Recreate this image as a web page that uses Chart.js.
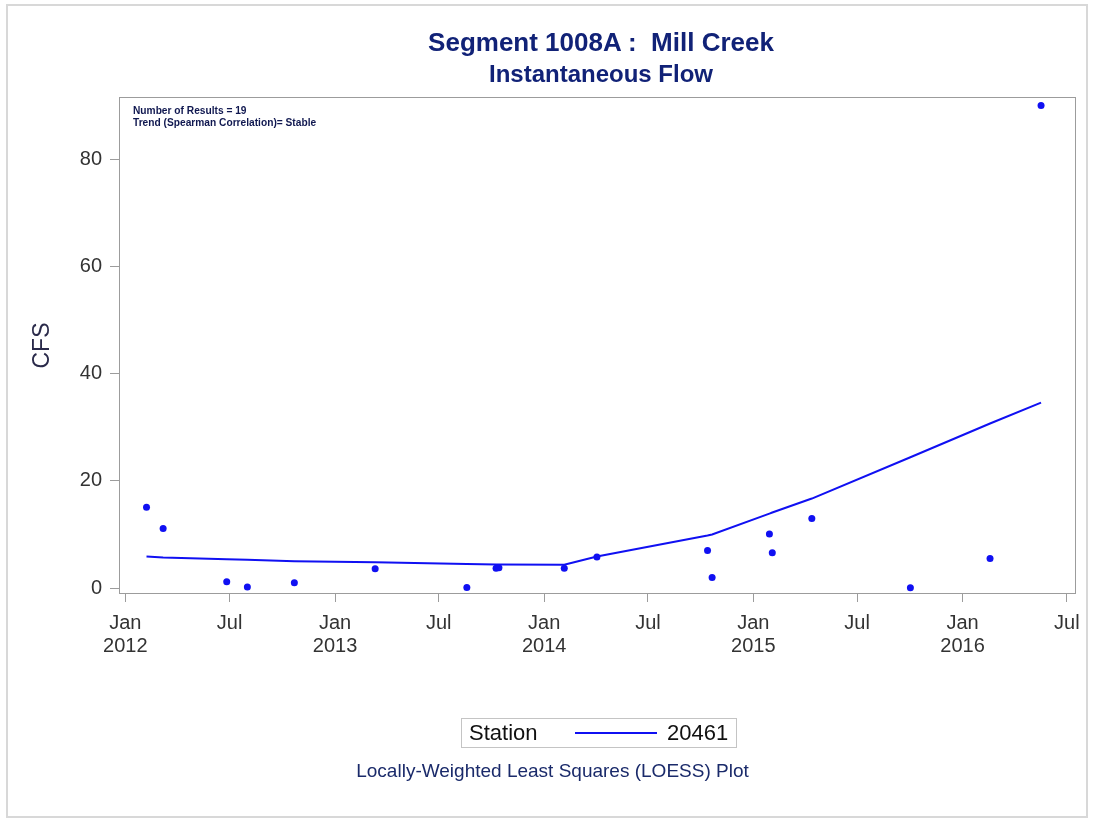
<!DOCTYPE html>
<html>
<head>
<meta charset="utf-8">
<title>Segment 1008A : Mill Creek</title>
<script src="https://cdn.jsdelivr.net/npm/chart.js@4.4.1/dist/chart.umd.min.js"></script>
<style>
  body { margin: 0; background: #fff; font-family: 'Liberation Sans', Arial, sans-serif; }
  .wrap { position: relative; width: 1095px; height: 822px; overflow: hidden; }
  .wrap canvas { position: absolute; left: 0; top: 0; }
  .frame { position: absolute; left: 6px; top: 4px; width: 1082px; height: 814px; border: 2px solid #d8d8d8; box-sizing: border-box; }
  .title, .subtitle { position: absolute; left: 125px; width: 952px; text-align: center; color: #112277; font-weight: bold; white-space: pre; }
  .title { top: 27px; font-size: 26px; line-height: 30px; }
  .subtitle { top: 60px; font-size: 24px; line-height: 28px; }
  .note { position: absolute; left: 133px; top: 105px; font-size: 10.2px; line-height: 12px; font-weight: bold; color: #101850; }
  .legend { position: absolute; left: 461px; top: 718px; width: 276px; height: 30px; border: 1px solid #c4c4c4; box-sizing: border-box; font-size: 22px; color: #111; }
  .legend span { position: absolute; top: 1px; line-height: 26px; }
  .legend i { position: absolute; left: 113px; top: 13px; width: 82px; height: 2px; }
  .footnote { position: absolute; left: 0; width: 1105px; top: 760px; text-align: center; font-size: 19px; line-height: 22px; color: #1a2a6a; }
</style>
</head>
<body>
<div class="wrap">
  <canvas id="flowChart"></canvas>
  <div class="frame"></div>
  <div class="title">Segment 1008A :  Mill Creek</div>
  <div class="subtitle">Instantaneous Flow</div>
  <div class="note">Number of Results = 19<br>Trend (Spearman Correlation)= Stable</div>
  <div class="legend"><span style="left:7px">Station</span><i id="legendLine"></i><span id="legendLabel" style="left:205px"></span></div>
  <div class="footnote">Locally-Weighted Least Squares (LOESS) Plot</div>
</div>
<script>
// samples
var sampleDates = ['2012-02-07', '2012-03-07', '2012-06-26', '2012-08-01', '2012-10-22',
                   '2013-03-12', '2013-08-19', '2013-10-09', '2013-10-14', '2014-02-05',
                   '2014-04-03', '2014-10-13', '2014-10-21', '2015-01-29', '2015-02-03',
                   '2015-04-13', '2015-10-02', '2016-02-18', '2016-05-17'];
var flowCfs = [15.1, 11.1, 1.2, 0.2, 1.0,
               3.6, 0.1, 3.7, 3.8, 3.7,
               5.8, 7.0, 2.0, 10.1, 6.6,
               13.0, 0.05, 5.5, 90.0];
// loess fit at the same dates
var loessCfs = [5.9, 5.7, 5.4, 5.3, 5.0,
                4.8, 4.5, 4.4, 4.4, 4.35,
                5.9, 9.8, 10.0, 13.9, 14.1,
                16.7, 24.4, 30.7, 34.6];
var stationName = '20461';
var xTickDates = ['2012-01-01', '2012-07-01', '2013-01-01', '2013-07-01', '2014-01-01',
                  '2014-07-01', '2015-01-01', '2015-07-01', '2016-01-01', '2016-07-01'];
var yTicks = [0, 20, 40, 60, 80];
var xRange = ['2011-12-21', '2016-07-17'];
var yRange = [-1.1, 91.6];

var monthNames = ['Jan', 'Feb', 'Mar', 'Apr', 'May', 'Jun', 'Jul', 'Aug', 'Sep', 'Oct', 'Nov', 'Dec'];
var blue = '#1010f2';

function toMs(s) {
    var p = s.split('-');
    return Date.UTC(+p[0], +p[1] - 1, +p[2]);
}

var points = sampleDates.map(function(d, i) { return {x: toMs(d), y: flowCfs[i]}; });
var fitLine = sampleDates.map(function(d, i) { return {x: toMs(d), y: loessCfs[i]}; });

// box round the plot area
var plotFrame = {
    id: 'plotFrame',
    beforeDatasetsDraw: function(chart) {
        var a = chart.chartArea, ctx = chart.ctx;
        ctx.save();
        ctx.strokeStyle = '#9c9c9c';
        ctx.lineWidth = 1;
        ctx.strokeRect(a.left + 0.5, a.top + 0.5, a.right - a.left - 1, a.bottom - a.top - 1);
        ctx.restore();
    }
};

Chart.defaults.font.family = "'Liberation Sans', Arial, sans-serif";

var chart = new Chart(document.getElementById('flowChart'), {
    type: 'scatter',
    data: {
        datasets: [{
            label: 'samples',
            data: points,
            backgroundColor: blue,
            borderColor: blue,
            pointRadius: 3.5,
            pointBorderWidth: 0
        }, {
            label: stationName,
            data: fitLine,
            showLine: true,
            borderColor: blue,
            borderWidth: 2,
            pointRadius: 0,
            tension: 0
        }]
    },
    options: {
        responsive: true,
        maintainAspectRatio: false,
        animation: false,
        layout: { padding: { left: 0, right: 19, top: 97, bottom: 148 } },
        plugins: {
            legend: { display: false },
            tooltip: { enabled: false }
        },
        scales: {
            x: {
                type: 'linear',
                min: toMs(xRange[0]),
                max: toMs(xRange[1]),
                afterBuildTicks: function(s) {
                    s.ticks = xTickDates.map(function(d) { return {value: toMs(d)}; });
                },
                afterFit: function(s) { s.height = 80; },
                border: { display: false },
                grid: { drawOnChartArea: false, drawTicks: true, tickLength: 8, color: '#9c9c9c' },
                ticks: {
                    autoSkip: false,
                    maxRotation: 0,
                    padding: 10,
                    color: '#333',
                    font: { size: 20, lineHeight: 1.15 },
                    callback: function(v) {
                        var d = new Date(v);
                        var m = monthNames[d.getUTCMonth()];
                        return d.getUTCMonth() === 0 ? [m, String(d.getUTCFullYear())] : m;
                    }
                }
            },
            y: {
                min: yRange[0],
                max: yRange[1],
                afterBuildTicks: function(s) {
                    s.ticks = yTicks.map(function(v) { return {value: v}; });
                },
                afterFit: function(s) { s.width = 119; },
                border: { display: false },
                grid: { drawOnChartArea: false, drawTicks: true, tickLength: 9, color: '#9c9c9c' },
                ticks: { padding: 8, color: '#333', font: { size: 20 } },
                title: {
                    display: true,
                    text: 'CFS',
                    color: '#2a2a4a',
                    font: { size: 23 },
                    padding: { top: 29, bottom: 0 }
                }
            }
        }
    },
    plugins: [plotFrame]
});

// html legend from the fit dataset
document.getElementById('legendLine').style.background = chart.data.datasets[1].borderColor;
document.getElementById('legendLabel').textContent = chart.data.datasets[1].label;
</script>
</body>
</html>
